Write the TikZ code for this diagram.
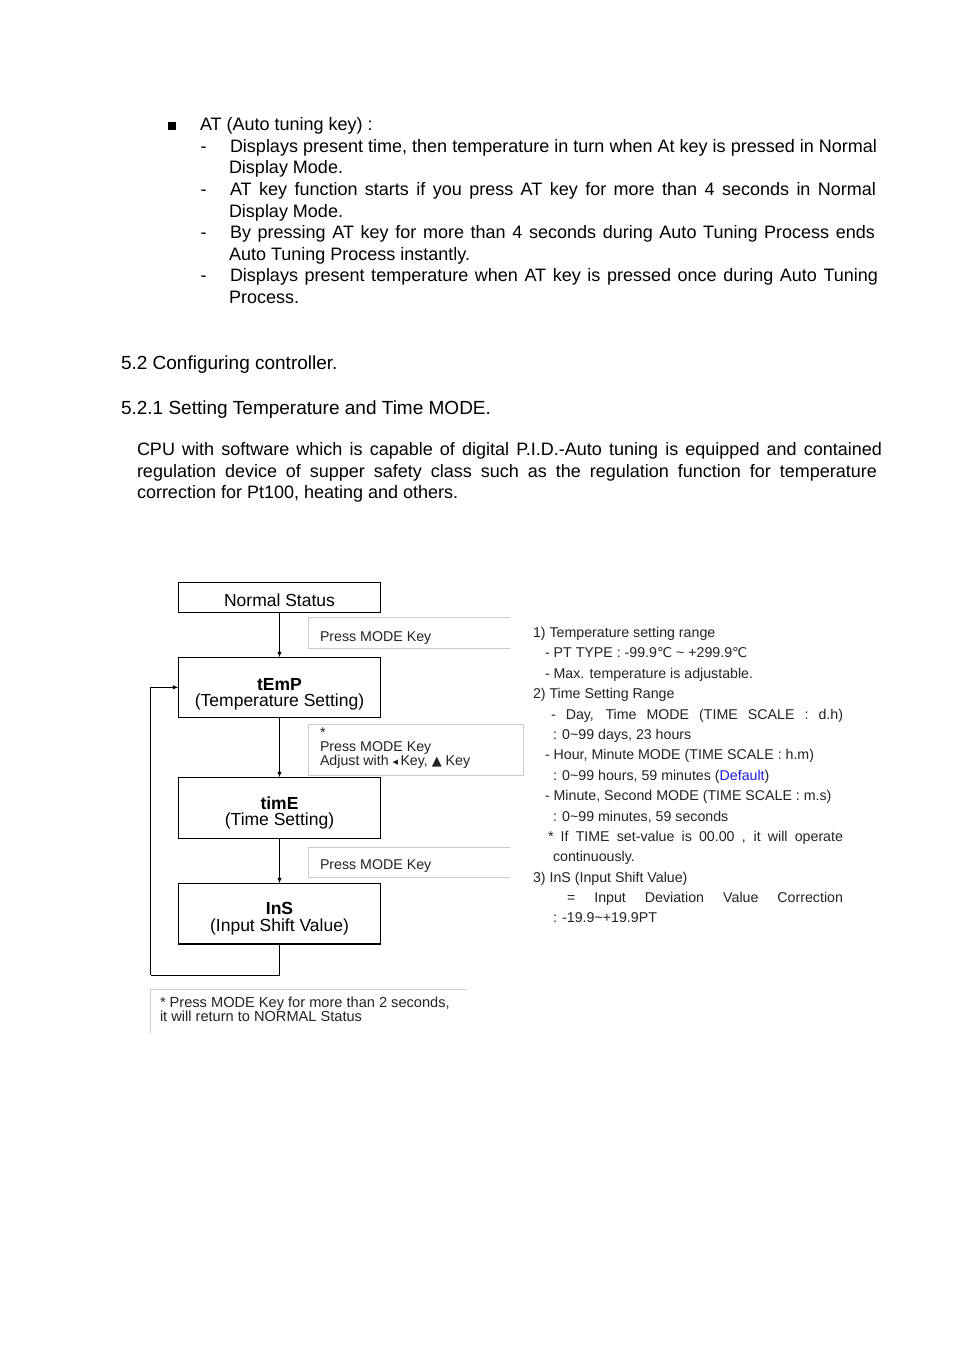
\documentclass[tikz,border=0pt]{standalone}
\usepackage{fontspec}
\setmainfont{Liberation Sans}
\newfontfamily\symfont{DejaVu Sans}
\usetikzlibrary{arrows.meta}
\definecolor{deflink}{RGB}{30,30,230}
\definecolor{txtc}{RGB}{35,35,35}
\newcommand\jl[2]{\hbox to #1pt{#2}}
\newcommand\tld{\textasciitilde}
\newcommand\degc{{\symfont\fontsize{13.5}{14}\selectfont ℃}}
\tikzset{
  txt/.style={inner sep=0pt, outer sep=0pt, anchor=base west, font=\fontsize{18}{21.6}\selectfont},
  hd/.style={txt, font=\fontsize{19}{23}\selectfont},
  box/.style={draw, line width=1.1pt, minimum width=202.4pt, inner sep=0pt, outer sep=0pt},
  btxt/.style={inner sep=0pt, outer sep=0pt, anchor=base, font=\fontsize{17.5}{20}\selectfont},
  lab/.style={inner sep=0pt, outer sep=0pt, anchor=base west, text=txtc, font=\fontsize{14.2}{16}\selectfont},
  lst/.style={inner sep=0pt, outer sep=0pt, anchor=base west, text=txtc, font=\fontsize{14.2}{16}\selectfont},
  gline/.style={draw=gray!40, line width=0.9pt},
  arr/.style={line width=0.9pt, -{Latex[length=5.5pt,width=4.5pt]}},
  loopline/.style={line width=0.9pt}
}
\begin{document}
\begin{tikzpicture}[x=1pt,y=-1pt]
\useasboundingbox[fill=white] (0,0) rectangle (954,1349);

% ---- bullet list ----
\node[fill, minimum size=7.5pt, inner sep=0pt] (bul) at (172,126) {};
\node[txt] (b0) at (200,130.5) {AT (Auto tuning key) :};
\node[txt] (d1) at (200.5,152.3) {-};
\node[txt] (l1) at (230,152.3) {\jl{647}{Displays present time, then temperature in turn when At key is pressed in Normal}};
\node[txt] (l1b) at (229,173.9) {Display Mode.};
\node[txt] (d2) at (200.5,195.5) {-};
\node[txt] (l2) at (230,195.5) {\jl{646}{AT key function starts if you press AT key for more than 4 seconds in Normal}};
\node[txt] (l2b) at (229,217.1) {Display Mode.};
\node[txt] (d3) at (200.5,238.7) {-};
\node[txt] (l3) at (230,238.7) {\jl{645}{By pressing AT key for more than 4 seconds during Auto Tuning Process ends}};
\node[txt] (l3b) at (229,260.3) {Auto Tuning Process instantly.};
\node[txt] (d4) at (200.5,281.9) {-};
\node[txt] (l4) at (230,281.9) {\jl{648}{Displays present temperature when AT key is pressed once during Auto Tuning}};
\node[txt] (l4b) at (229,303.5) {Process.};

% ---- headings ----
\node[hd] (h1) at (121,369) {5.2 Configuring controller.};
\node[hd] (h2) at (121,414) {5.2.1 Setting Temperature and Time MODE.};

% ---- paragraph ----
\node[txt] (p1) at (137,455.5) {\jl{745}{CPU with software which is capable of digital P.I.D.-Auto tuning is equipped and contained}};
\node[txt] (p2) at (137,477) {\jl{740}{regulation device of supper safety class such as the regulation function for temperature}};
\node[txt] (p3) at (137,498.5) {correction for Pt100, heating and others.};

% ---- flow boxes ----
\node[box, minimum height=30.4pt] (ns) at (279.5,597.5) {};
\node[box, minimum height=60pt] (temp) at (279.5,687.3) {};
\node[box, minimum height=61pt] (time) at (279.5,807.8) {};
\node[box, minimum height=60.7pt] (ins) at (279.5,913.6) {};

\node[btxt] (tns) at (279.5,606) {Normal Status};
\node[btxt] (tt1) at (279.5,690) {\textbf{tEmP}};
\node[btxt] (tt2) at (279.5,706) {(Temperature Setting)};
\node[btxt] (ti1) at (279.5,809) {\textbf{timE}};
\node[btxt] (ti2) at (279.5,825) {(Time Setting)};
\node[btxt] (tn1) at (279.5,914) {\textbf{InS}};
\node[btxt] (tn2) at (279.5,931) {(Input Shift Value)};

\draw[arr] (ns.south) -- (temp.north);
\draw[arr] (temp.south) -- (time.north);
\draw[arr] (time.south) -- (ins.north);
\coordinate (lb) at (150.5,975);
\draw[loopline] (ins.south) |- (lb);
\draw[arr] (lb) |- (temp.west);

% ---- label boxes ----
\draw[gline] (510,617.7) -- (308.3,617.7) -- (308.3,648.7) -- (510,648.7);
\node[lab] (lab1) at (320,641) {Press MODE Key};

\draw[gline] (308.3,724.3) rectangle (523.3,775);
\node[lab] (lab2a) at (320,737) {*};
\node[lab] (lab2b) at (320,751) {Press MODE Key};
\node[lab] (lab2c) at (320,765) {Adjust with {\symfont\fontsize{11}{12}\selectfont ◂}\,Key, {\symfont\fontsize{13}{14}\selectfont ▲} Key};

\draw[gline] (510,847.3) -- (308.3,847.3) -- (308.3,877.3) -- (510,877.3);
\node[lab] (lab3) at (320,869) {Press MODE Key};

% ---- footnote ----
\draw[gline] (466.7,989.3) -- (150,989.3) -- (150,1033);
\node[lab, font=\fontsize{14.6}{16}\selectfont] (f1) at (160,1007) {* Press MODE Key for more than 2 seconds,};
\node[lab, font=\fontsize{14.6}{16}\selectfont] (f2) at (160,1021) {it will return to NORMAL Status};

% ---- right list ----
\node[lst] (r1) at (533,637) {1) Temperature setting range};
\node[lst] (r2) at (545,657) {- PT TYPE : -99.9\degc{} \tld{} +299.9\degc};
\node[lst] (r3) at (545,678) {- Max. temperature is adjustable.};
\node[lst] (r4) at (533,698) {2) Time Setting Range};
\node[lst] (r5) at (551,719) {\jl{292}{- Day, Time MODE (TIME SCALE : d.h)}};
\node[lst] (r6) at (553,739) {: 0\tld99 days, 23 hours};
\node[lst] (r7) at (545,759) {- Hour, Minute MODE (TIME SCALE : h.m)};
\node[lst] (r8) at (553,780) {: 0\tld99 hours, 59 minutes (\textcolor{deflink}{Default})};
\node[lst] (r9) at (545,800) {- Minute, Second MODE (TIME SCALE : m.s)};
\node[lst] (r10) at (553,821) {: 0\tld99 minutes, 59 seconds};
\node[lst] (r11) at (548,841) {\jl{295}{* If TIME set-value is 00.00 , it will operate}};
\node[lst] (r12) at (553,861) {continuously.};
\node[lst] (r13) at (533,882) {3) InS (Input Shift Value)};
\node[lst] (r14) at (567,902) {\jl{276}{= Input Deviation Value Correction}};
\node[lst] (r15) at (553,922) {: -19.9\tld+19.9PT};
\end{tikzpicture}
\end{document}
